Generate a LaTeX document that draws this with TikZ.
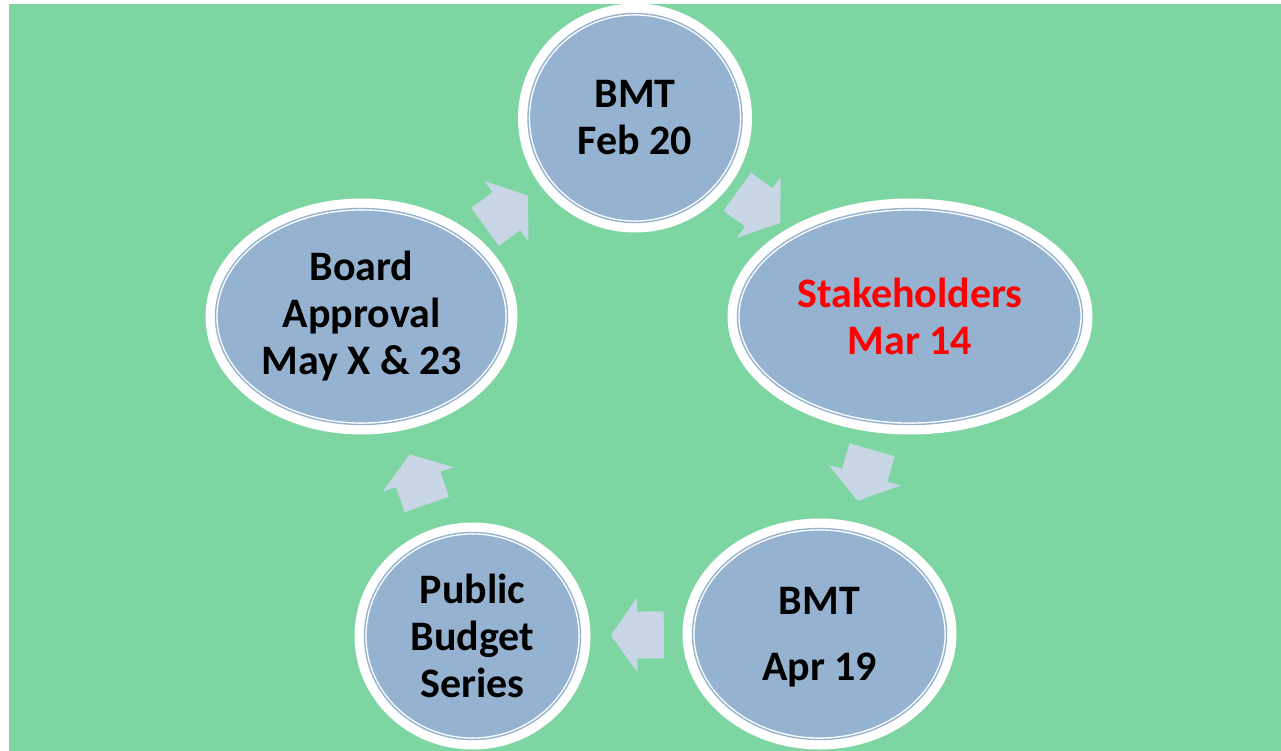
\documentclass[tikz,border=0pt]{standalone}
\usepackage{fontspec}
\setmainfont{Carlito}
\usepackage{tikz}
\usetikzlibrary{shapes.geometric}
\definecolor{backgreen}{RGB}{125,213,162}
\definecolor{cycleblue}{RGB}{149,179,209}
\definecolor{arrowblue}{RGB}{200,214,230}
\begin{document}
\begin{tikzpicture}[x=1pt, y=1pt,
    stage/.style={ellipse, inner sep=0pt, align=center,
      font=\fontsize{42}{47}\selectfont\bfseries, fill=cycleblue,
      draw=white, line width=1.4pt, double=cycleblue, double distance=1.4pt,
      preaction={draw=white, line width=20pt}},
    cyclearrow/.pic={\fill[arrowblue] (-26.5,-23.5) -- (0,-23.5) -- (0,-37.5)
      -- (26.5,0) -- (0,37.5) -- (0,23.5) -- (-26.5,23.5) -- cycle;}]
    \useasboundingbox (0,0) rectangle (1281,-751);
    \fill[white] (0,0) rectangle (1281,-751);
    \fill[backgreen] (9,-4) rectangle (1281,-751);

    \node[stage, minimum width=214pt, minimum height=209pt] (bmtone) at (635,-118) {BMT\\Feb 20};
    \node[stage, text=red, minimum width=345pt, minimum height=216pt] (stake) at (910,-316.5) {Stakeholders\\Mar 14};
    \node[stage, text depth=0pt, minimum width=254pt, minimum height=211pt] (bmttwo) at (819.5,-634) {BMT\\[19pt]Apr 19};
    \node[stage, minimum width=216pt, minimum height=207pt] (public) at (472.5,-636) {Public\\Budget\\Series};
    \node[stage, minimum width=292pt, minimum height=216pt] (board) at (361.5,-316.5) {Board\\Approval\\May X \& 23};

    \path (bmtone.center) -- pic[pos=0.45, sloped, allow upside down] {cyclearrow} (stake.center);
    \path (stake.center) -- pic[pos=0.5, sloped, allow upside down] {cyclearrow} (bmttwo.center);
    \path (bmttwo.center) -- pic[pos=0.525, sloped, allow upside down] {cyclearrow} (public.center);
    \path (public.center) -- pic[pos=0.49, sloped, allow upside down] {cyclearrow} (board.center);
    \path (board.center) -- pic[pos=0.53, sloped, allow upside down] {cyclearrow} (bmtone.center);
\end{tikzpicture}
\end{document}
